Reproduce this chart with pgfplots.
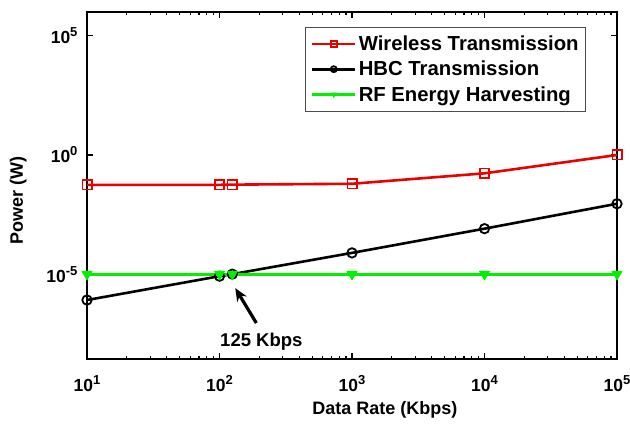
\documentclass[border=0pt]{standalone}
\usepackage{fontspec}
\setmainfont{Liberation Sans}
\usepackage{pgfplots}
\pgfplotsset{compat=1.18}
\usetikzlibrary{arrows.meta}
\definecolor{wred}{RGB}{235,0,0}
\definecolor{rfgreen}{RGB}{0,240,0}
\newcommand{\tl}[1]{\textbf{10}\raisebox{0.75ex}{\fontsize{13}{13}\selectfont\bfseries #1}}
\begin{document}
\begin{tikzpicture}
\useasboundingbox (-87pt,-73pt) rectangle (543pt,359pt);
\begin{axis}[
  at={(0,0)}, anchor=south west,
  scale only axis, width=530pt, height=347pt,
  xmode=log, ymode=log,
  xmin=10, xmax=1e5, ymin=2.75e-9, ymax=1e6,
  xtick={10,100,1000,10000,100000},
  xticklabels={\tl{1},\tl{2},\tl{3},\tl{4},\tl{5}},
  ytick={1e-5,1,1e5},
  yticklabels={\tl{-5},\tl{0},\tl{5}},
  minor tick num=0, minor xtick={}, minor ytick={},
  tick align=inside, major tick length=6pt,
  axis line style={line width=1.6pt},
  every tick/.style={line width=1.2pt, black},
  ticklabel style={font=\fontsize{17.5}{20}\selectfont\bfseries},
  xticklabel style={yshift=-15pt, inner ysep=1pt},
  yticklabel style={xshift=-6pt},
  xlabel={\textbf{Data Rate (Kbps)}},
  ylabel={\textbf{Power (W)}},
  label style={font=\fontsize{18}{20}\selectfont\bfseries},
  xlabel style={at={(axis description cs:0.562,-0.146)}, anchor=center, inner ysep=1pt},
  ylabel style={at={(axis description cs:-0.130,0.458)}, anchor=center, rotate=0},
  legend style={at={(axis description cs:0.9415,0.9568)}, anchor=north east,
    font=\fontsize{20.3}{23}\selectfont\bfseries, draw=black!70, line width=0.8pt,
    inner xsep=5pt, inner ysep=6.5pt, row sep=5pt},
  legend cell align=left,
  legend image code/.code={\draw[#1, line width=2.6pt] (0pt,0pt) -- (43pt,0pt); \draw[#1, mark size=3pt, mark repeat=2, mark phase=2] plot coordinates {(0pt,0pt) (21.5pt,0pt) (43pt,0pt)};},
]
\addplot[color=wred, line width=2.6pt, mark=square, mark size=4.7pt, mark options={solid, line width=1.6pt, fill=none}]
  coordinates {(10,0.056) (100,0.056) (125,0.057) (1000,0.062) (10000,0.17) (100000,1.0)};
\addlegendentry{Wireless Transmission}
\addplot[color=black, line width=2.6pt, mark=o, mark size=4.7pt, mark options={solid, line width=1.8pt, fill=none}]
  coordinates {(10,8.2e-7) (100,8.2e-6) (125,1.0e-5) (1000,7.8e-5) (10000,8.1e-4) (100000,9.0e-3)};
\addlegendentry{HBC Transmission}
\addplot[color=rfgreen, line width=3pt, mark=triangle*, mark size=6pt, mark options={solid, rotate=180, line width=0.5pt, fill=rfgreen}]
  coordinates {(10,1e-5) (100,1e-5) (125,1e-5) (1000,1e-5) (10000,1e-5) (100000,1e-5)};
\addlegendentry{RF Energy Harvesting}
\draw[-{Stealth[length=13pt,width=11pt]}, line width=3.2pt, black] (axis cs:189.7,8.9e-8) -- (axis cs:131.5,2.6e-6);
\node[font=\fontsize{18.5}{20}\selectfont\bfseries] at (axis cs:207,1.41e-8) {125 Kbps};
\end{axis}
\end{tikzpicture}
\end{document}
